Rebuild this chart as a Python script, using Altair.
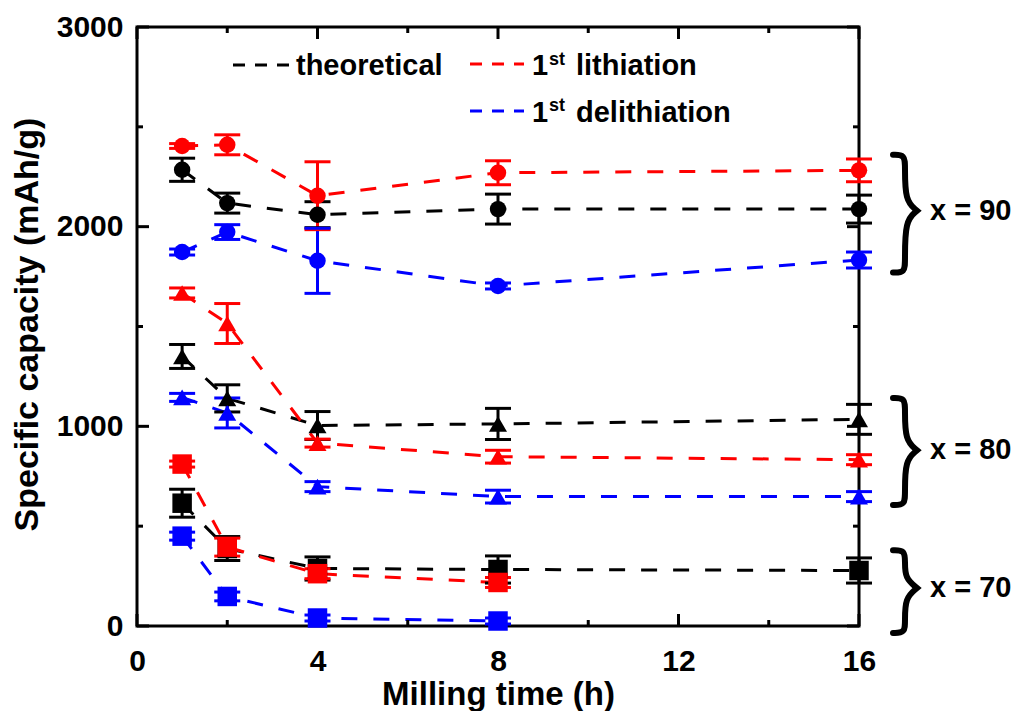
import altair as alt
import pandas as pd

FONT = "Liberation Sans, Arial, sans-serif"

# ---------------- data ----------------
times = [1, 2, 4, 8, 16]

theo_90 = [2285, 2118, 2060, 2088, 2088]
theo_90_err = [58, 50, 65, 75, 70]
lith_90 = [2404, 2410, 2155, 2270, 2282]
lith_90_err = [12, 50, 170, 60, 57]
deli_90 = [1873, 1973, 1829, 1703, 1833]
deli_90_err = [15, 37, 163, 15, 40]

theo_80 = [1350, 1140, 1004, 1012, 1035]
theo_80_err = [60, 68, 70, 78, 75]
lith_80 = [1668, 1515, 916, 848, 833]
lith_80_err = [25, 100, 20, 32, 25]
deli_80 = [1145, 1067, 698, 648, 648]
deli_80_err = [20, 75, 25, 32, 25]

theo_70 = [615, 388, 288, 283, 278]
theo_70_err = [70, 60, 58, 68, 63]
lith_70 = [811, 395, 262, 218, None]
lith_70_err = [15, 45, 25, 25, None]
deli_70 = [450, 148, 40, 25, None]
deli_70_err = [20, 22, 15, 15, None]

kinds = ["theoretical", "lithiation", "delithiation"]
kind_colors = ["#000000", "#FF0000", "#0000FF"]
groups = ["90", "80", "70"]
group_shapes = ["circle", "triangle-up", "square"]
group_sizes = [270, 380, 300]

legend_labels = ["theoretical", "lithiation", "delithiation"]

brace_labels = ["x = 90", "x = 80", "x = 70"]
brace_top = [2360, 1142, 380]
brace_bottom = [1770, 606, -35]
brace_mid = [2080, 880, 190]

x_major = [0, 4, 8, 12, 16]
x_minor = [2, 6, 10, 14]
y_major = [0, 1000, 2000, 3000]
y_minor = [500, 1500, 2500]

series = [
    ("90", "theoretical", theo_90, theo_90_err),
    ("90", "lithiation", lith_90, lith_90_err),
    ("90", "delithiation", deli_90, deli_90_err),
    ("80", "theoretical", theo_80, theo_80_err),
    ("80", "lithiation", lith_80, lith_80_err),
    ("80", "delithiation", deli_80, deli_80_err),
    ("70", "theoretical", theo_70, theo_70_err),
    ("70", "lithiation", lith_70, lith_70_err),
    ("70", "delithiation", deli_70, deli_70_err),
]

rows = []
for grp, kind, vals, errs in series:
    for t, v, e in zip(times, vals, errs):
        if v is None:
            continue
        rows.append(dict(time=t, cap=v, lo=v - e, hi=v + e, group=grp,
                         kind=kind, series=grp + "-" + kind))
df = pd.DataFrame(rows)

# brace outlines (data units)
W, H = 722, 599
px_per_x = W / 16.0
px_per_y = H / 3000.0
tip_x = 16 + 34 / px_per_x
spine_x = 16 + 46 / px_per_x
point_x = 16 + 58 / px_per_x
hook = 12 / px_per_y
near = 10 / px_per_y
brows = []
for lab, T, B, M in zip(brace_labels, brace_top, brace_bottom, brace_mid):
    pts = [(tip_x, T), (spine_x, T), (spine_x, T - hook), (spine_x, M + near),
           (point_x, M), (point_x, M), (point_x, M),
           (spine_x, M - near), (spine_x, B + hook), (spine_x, B), (tip_x, B)]
    for i, (bx, by) in enumerate(pts):
        brows.append(dict(brace=lab, bx=bx, by=by, o=i))
bdf = pd.DataFrame(brows)
ldf = pd.DataFrame(dict(label=brace_labels, ly=brace_mid))

# ---------------- chart ----------------
xscale = alt.Scale(domain=[0, 16], nice=False, zero=False)
yscale = alt.Scale(domain=[0, 3000], nice=False, zero=False)

xaxis = alt.Axis(values=x_major, ticks=False, domain=False, grid=False,
                 labelFont=FONT, labelFontSize=30, labelFontWeight="bold",
                 labelColor="black", labelPadding=20, labelFlush=False,
                 labelOverlap=False, format="d",
                 title="Milling time (h)", titleFont=FONT, titleFontSize=33,
                 titleFontWeight="bold", titleColor="black",
                 titleBaseline="alphabetic", titleY=78)
yaxis = alt.Axis(values=y_major, ticks=False, domain=False, grid=False,
                 labelFont=FONT, labelFontSize=30, labelFontWeight="bold",
                 labelColor="black", labelPadding=14, labelFlush=False,
                 labelOverlap=False, format="d",
                 title="Specific capacity (mAh/g)", titleFont=FONT,
                 titleFontSize=34, titleFontWeight="bold", titleColor="black",
                 titleBaseline="alphabetic", titleX=-100, titleY=297,
                 titleAngle=-90, titleAlign="center")

color = alt.Color("kind:N", scale=alt.Scale(domain=kinds, range=kind_colors), legend=None)

base = alt.Chart(df)

lines = base.mark_line(strokeDash=[16, 16], strokeWidth=3, strokeCap="butt").encode(
    x=alt.X("time:Q", scale=xscale, axis=xaxis),
    y=alt.Y("cap:Q", scale=yscale, axis=yaxis),
    color=color,
    detail="series:N",
    order="time:Q",
)

err = base.mark_rule(strokeWidth=3).encode(
    x="time:Q", y="lo:Q", y2="hi:Q", color=color)
cap_lo = base.mark_rule(strokeWidth=3, xOffset=-13, x2Offset=13).encode(
    x="time:Q", x2="time:Q", y="lo:Q", color=color)
cap_hi = base.mark_rule(strokeWidth=3, xOffset=-13, x2Offset=13).encode(
    x="time:Q", x2="time:Q", y="hi:Q", color=color)

points = base.mark_point(filled=True, opacity=1, strokeWidth=0).encode(
    x="time:Q", y="cap:Q", color=color,
    shape=alt.Shape("group:N", scale=alt.Scale(domain=groups, range=group_shapes), legend=None),
    size=alt.Size("group:N", scale=alt.Scale(domain=groups, range=group_sizes), legend=None),
)

# inward ticks on all four sides
def tick_layers(vals, length, axis_side):
    d = alt.Chart(pd.DataFrame({"v": vals}))
    m = d.mark_rule(color="black", strokeWidth=3)
    if axis_side == "bottom":
        return m.encode(x="v:Q", y=alt.value(H), y2=alt.value(H - length))
    if axis_side == "top":
        return m.encode(x="v:Q", y=alt.value(0), y2=alt.value(length))
    if axis_side == "left":
        return m.encode(y="v:Q", x=alt.value(0), x2=alt.value(length))
    return m.encode(y="v:Q", x=alt.value(W), x2=alt.value(W - length))

ticks = [
    tick_layers(x_major, 12, "bottom"), tick_layers(x_minor, 6, "bottom"),
    tick_layers(x_major, 12, "top"), tick_layers(x_minor, 6, "top"),
    tick_layers(y_major, 12, "left"), tick_layers(y_minor, 6, "left"),
    tick_layers(y_major, 12, "right"), tick_layers(y_minor, 6, "right"),
]

braces = alt.Chart(bdf).mark_line(interpolate="basis", strokeWidth=6,
                                  color="black", strokeCap="round").encode(
    x="bx:Q", y="by:Q", detail="brace:N", order="o:Q")

brace_text = alt.Chart(ldf).mark_text(align="left", baseline="middle", font=FONT,
                                      fontSize=29, fontWeight="bold",
                                      color="black").encode(
    x=alt.value(793), y="ly:Q", text="label:N")

# legend (manual)
one = pd.DataFrame({"a": [0]})
def leg_line(x1, x2, y, col):
    return alt.Chart(one).mark_rule(strokeWidth=3, strokeDash=[12, 10],
                                    strokeCap="butt", color=col).encode(
        x=alt.value(x1), x2=alt.value(x2), y=alt.value(y))

def leg_text(txt, x, y, size):
    return alt.Chart(one).mark_text(align="left", baseline="alphabetic", font=FONT,
                                    fontSize=size, fontWeight="bold",
                                    color="black").encode(
        x=alt.value(x), y=alt.value(y), text=alt.value(txt))

legend = [
    leg_line(96, 152, 38, kind_colors[0]),
    leg_text(legend_labels[0], 159, 48, 29),
    leg_line(333, 387, 37, kind_colors[1]),
    leg_text("1", 395, 48, 29),
    leg_text("st", 412, 38, 18),
    leg_text(legend_labels[1], 439, 48, 29),
    leg_line(333, 387, 84, kind_colors[2]),
    leg_text("1", 395, 95, 29),
    leg_text("st", 412, 84, 18),
    leg_text(legend_labels[2], 439, 95, 29),
]

chart = alt.layer(
    lines, *ticks, err, cap_lo, cap_hi, points, braces, brace_text, *legend
).properties(
    width=W, height=H,
    padding={"left": 137, "top": 27, "right": 162, "bottom": 85},
    autosize=alt.AutoSizeParams(type="none"),
    background="white",
).configure_view(stroke="black", strokeWidth=3)

chart.save("out.html", embed_options={"renderer": "svg", "actions": False})
